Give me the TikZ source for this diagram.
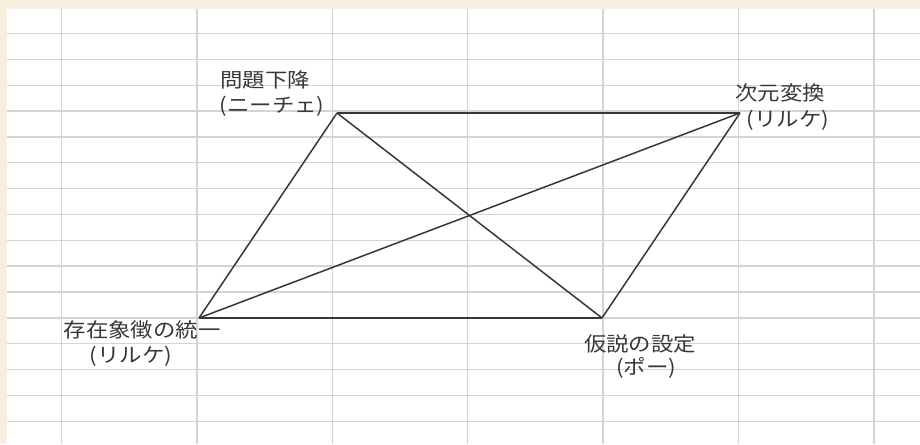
\documentclass[tikz,border=0pt]{standalone}
\usepackage{fontspec}
\newfontfamily\jp[FakeStretch=1.12]{Noto Sans CJK JP}
\definecolor{beige}{RGB}{246,239,224}
\definecolor{gridc}{RGB}{212,212,212}
\definecolor{inkc}{RGB}{55,55,55}
\definecolor{txtc}{RGB}{55,55,55}
\tikzset{
  gridline/.style={draw=gridc, line width=1.4pt},
  edge/.style={draw=inkc, line width=1.5pt},
  lbl/.style={inner sep=0pt, text=txtc, font=\jp\fontsize{20}{24}\selectfont}
}
\begin{document}
\begin{tikzpicture}[x=1pt,y=-1pt]
\useasboundingbox (0,0) rectangle (920,444);
\fill[beige] (0,0) rectangle (920,444);
\fill[white] (7,9) rectangle (920,444);
\foreach \k in {0,...,6} {
  \draw[gridline] ({61.5+135.4*\k},9) -- ({61.5+135.4*\k},444);
}
\foreach \k in {0,...,15} {
  \draw[gridline] (7,{33.5+25.85*\k}) -- (920,{33.5+25.85*\k});
}
% vertices
\coordinate (A) at (337,113);
\coordinate (B) at (740,113);
\coordinate (C) at (199,318);
\coordinate (D) at (602,318);
% connectors
\draw[edge] (A) -- (B);
\draw[edge] (C) -- (D);
\draw[edge] (A) -- (C);
\draw[edge] (B) -- (D);
\draw[edge] (A) -- (D);
\draw[edge] (C) -- (B);
% labels
\node[lbl] (a1) at (265,80) {問題下降};
\node[lbl] (a2) at (272,106) {(ニーチェ)};
\node[lbl] (b1) at (780,93) {次元変換};
\node[lbl] (b2) at (788,120) {(リルケ)};
\node[lbl] (c1) at (142,330) {存在象徴の統一};
\node[lbl] (c2) at (131,356) {(リルケ)};
\node[lbl] (d1) at (640,344) {仮説の設定};
\node[lbl] (d2) at (646,368) {(ポー)};
\end{tikzpicture}
\end{document}
